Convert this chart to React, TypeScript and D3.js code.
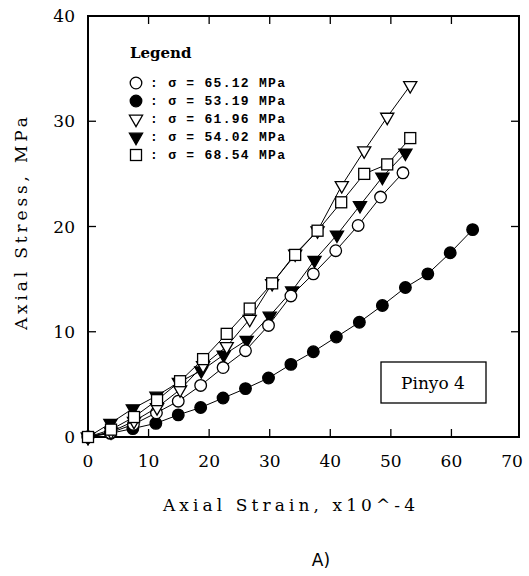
import React from "react";
import * as d3 from "d3";

// strain (x10^-4) and stress (MPa)
const openCircleX = [0, 3.7, 7.5, 11.3, 14.9, 18.6, 22.3, 26.0, 29.8, 33.5, 37.2, 40.9, 44.6, 48.3, 52.0];
const openCircleY = [0, 0.4, 1.2, 2.3, 3.4, 4.9, 6.6, 8.2, 10.6, 13.4, 15.5, 17.7, 20.1, 22.8, 25.1];

const filledCircleX = [0, 3.7, 7.4, 11.2, 14.9, 18.6, 22.3, 26.0, 29.8, 33.5, 37.2, 41.0, 44.8, 48.6, 52.4, 56.1, 59.8, 63.5];
const filledCircleY = [0, 0.35, 0.8, 1.3, 2.1, 2.8, 3.7, 4.6, 5.6, 6.9, 8.1, 9.5, 10.9, 12.5, 14.2, 15.5, 17.5, 19.7];

const openTriX = [0, 3.8, 7.6, 11.4, 15.2, 19.0, 22.9, 26.7, 30.4, 34.2, 37.9, 41.9, 45.6, 49.4, 53.2];
const openTriY = [0, 0.5, 1.5, 2.8, 4.5, 6.8, 8.6, 11.2, 14.6, 17.4, 19.6, 23.9, 27.2, 30.4, 33.4];

const filledTriX = [0, 3.7, 7.4, 11.3, 15.0, 18.7, 22.4, 26.2, 30.0, 33.7, 37.4, 41.1, 44.9, 48.6, 52.4];
const filledTriY = [0, 1.3, 2.7, 3.9, 5.2, 6.3, 7.8, 9.2, 11.5, 13.9, 16.8, 19.2, 22.0, 24.7, 27.0];

const squareX = [0, 3.8, 7.6, 11.4, 15.2, 19.0, 22.9, 26.7, 30.4, 34.2, 37.9, 41.8, 45.6, 49.4, 53.2];
const squareY = [0, 0.7, 1.9, 3.5, 5.3, 7.4, 9.8, 12.2, 14.6, 17.3, 19.6, 22.3, 25.0, 25.9, 28.4];

const legendLabels = [
  ": σ = 65.12 MPa",
  ": σ = 53.19 MPa",
  ": σ = 61.96 MPa",
  ": σ = 54.02 MPa",
  ": σ = 68.54 MPa",
];

const xTicks = [0, 10, 20, 30, 40, 50, 60, 70];
const yTicks = [0, 10, 20, 30, 40];

type Kind = "circleOpen" | "circleFilled" | "triOpen" | "triFilled" | "square";

const series: { kind: Kind; xs: number[]; ys: number[] }[] = [
  { kind: "circleFilled", xs: filledCircleX, ys: filledCircleY },
  { kind: "triFilled", xs: filledTriX, ys: filledTriY },
  { kind: "circleOpen", xs: openCircleX, ys: openCircleY },
  { kind: "triOpen", xs: openTriX, ys: openTriY },
  { kind: "square", xs: squareX, ys: squareY },
];
const legendKinds: Kind[] = ["circleOpen", "circleFilled", "triOpen", "triFilled", "square"];

const serif = { fontFamily: "DejaVu Serif, Liberation Serif, serif" };
const mono = { fontFamily: "Liberation Mono, DejaVu Sans Mono, monospace" };

function Marker({ kind, x, y }: { kind: Kind; x: number; y: number }) {
  const fillOf = kind === "circleFilled" || kind === "triFilled" ? "#000" : "#fff";
  if (kind === "circleOpen" || kind === "circleFilled") {
    return <circle cx={x} cy={y} r={5.8} fill={fillOf} stroke="#000" strokeWidth={1.3} />;
  }
  if (kind === "square") {
    return <rect x={x - 5.5} y={y - 5.5} width={11} height={11} fill="#fff" stroke="#000" strokeWidth={1.3} />;
  }
  const tri = d3.symbol().type(d3.symbolTriangle).size(75)();
  return <path d={tri as string} transform={`translate(${x},${y}) rotate(180)`} fill={fillOf} stroke="#000" strokeWidth={1.3} />;
}

export default function App() {
  const W = 529, H = 576;
  const left = 88, right = 519, top = 16, bottom = 437;
  const x = d3.scaleLinear().domain([0, 70]).range([left, 512]);
  const y = d3.scaleLinear().domain([0, 40]).range([bottom, top]);

  return (
    <svg width={W} height={H} style={{ position: "absolute", left: 0, top: 0, background: "#fff" }}>
      <rect width={W} height={H} fill="#fff" />
      {/* frame */}
      <rect x={left} y={top} width={right - left} height={bottom - top} fill="none" stroke="#000" strokeWidth={2} />
      {/* ticks inward */}
      {xTicks.slice(1, -1).map((t) => (
        <g key={"xt" + t}>
          <line x1={x(t)} x2={x(t)} y1={bottom} y2={bottom - 8} stroke="#000" strokeWidth={1.3} />
          <line x1={x(t)} x2={x(t)} y1={top} y2={top + 8} stroke="#000" strokeWidth={1.3} />
        </g>
      ))}
      {yTicks.slice(1, -1).map((t) => (
        <g key={"yt" + t}>
          <line x1={left} x2={left + 8} y1={y(t)} y2={y(t)} stroke="#000" strokeWidth={1.3} />
          <line x1={right} x2={right - 8} y1={y(t)} y2={y(t)} stroke="#000" strokeWidth={1.3} />
        </g>
      ))}
      {xTicks.map((t) => (
        <text key={"xl" + t} x={x(t)} y={467} textAnchor="middle" style={serif} fontSize={17}>
          {t}
        </text>
      ))}
      {yTicks.map((t) => (
        <text key={"yl" + t} x={75} y={y(t) + 6} textAnchor="end" style={serif} fontSize={17}>
          {t}
        </text>
      ))}
      <text x={289} y={511} textAnchor="middle" style={serif} fontSize={17} textLength={252}>
        Axial Strain, x10^-4
      </text>
      <text
        transform={`translate(27,${(117 + 330) / 2}) rotate(-90)`}
        textAnchor="middle"
        style={serif}
        fontSize={17}
        textLength={213}
      >
        Axial Stress, MPa
      </text>
      <text x={321} y={566} textAnchor="middle" style={{ fontFamily: "DejaVu Sans, sans-serif" }} fontSize={17}>
        A)
      </text>

      {/* data */}
      {series.map((s, i) => {
        const pts = s.xs.map((v, j) => [x(v), y(s.ys[j])] as [number, number]);
        const line = d3.line()(pts) as string;
        return (
          <g key={"s" + i}>
            <path d={line} fill="none" stroke="#000" strokeWidth={1} />
            {pts.map((p, j) => (
              <Marker key={j} kind={s.kind} x={p[0]} y={p[1]} />
            ))}
          </g>
        );
      })}

      {/* legend */}
      <text x={130} y={58} style={serif} fontSize={15} fontWeight="bold">
        Legend
      </text>
      {legendLabels.map((lab, i) => (
        <g key={"lg" + i}>
          <Marker kind={legendKinds[i]} x={136} y={83 + i * 18} />
          <text x={150} y={87 + i * 18} style={mono} fontSize={13} fontWeight="bold" textLength={135}>
            {lab}
          </text>
        </g>
      ))}

      {/* label box */}
      <rect x={381} y={362} width={105} height={41} fill="#fff" stroke="#000" strokeWidth={1.3} />
      <text x={433} y={389} textAnchor="middle" style={serif} fontSize={17}>
        Pinyo 4
      </text>
    </svg>
  );
}
